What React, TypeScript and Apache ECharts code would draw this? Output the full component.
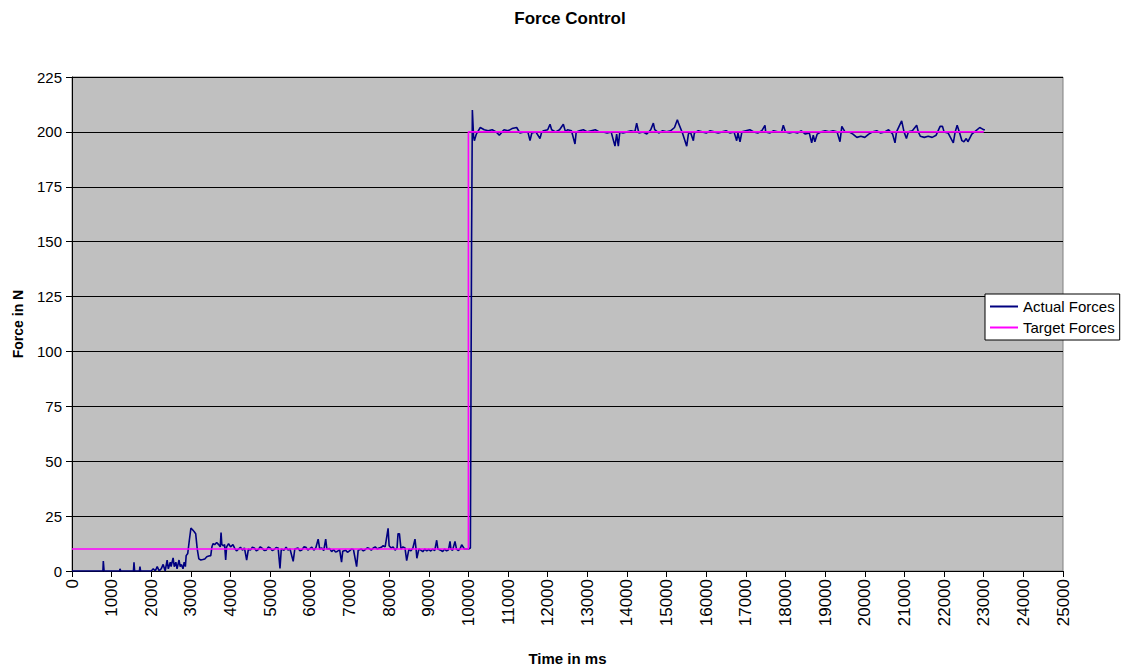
import React, { useEffect, useRef } from "react";
import * as echarts from "echarts";

const titleText = "Force Control";
const xAxisName = "Time in ms";
const yAxisName = "Force in N";
const seriesNames = ["Actual Forces", "Target Forces"];

// [time ms, force N]
const actualForces: [number, number][] = [
  [0, 0], [200, 0], [400, 0], [600, 0], [780, 0], [790, 4.5], [810, 0], [1000, 0], [1200, 0], [1210, 1], [1230, 0],
  [1550, 0], [1564, 4], [1580, 0], [1700, 0], [1715, 2], [1730, 0], [2000, 0], [2050, 1], [2100, 0], [2150, 2],
  [2200, 0], [2250, 1], [2300, 3], [2350, 0], [2400, 5], [2430, 1], [2480, 4], [2500, 2], [2550, 6], [2580, 2],
  [2620, 4], [2650, 1], [2700, 5], [2730, 2], [2760, 3], [2800, 1], [2830, 4], [2860, 2], [2880, 7], [2920, 8],
  [2960, 14], [3000, 19.5], [3030, 19], [3080, 18], [3120, 17], [3160, 10], [3200, 5.5], [3250, 5], [3300, 5.2],
  [3350, 5.5], [3400, 6.5], [3450, 6.8], [3500, 7], [3530, 11], [3560, 12.5], [3600, 12], [3650, 13], [3700, 12],
  [3740, 11], [3760, 17.5], [3780, 12], [3820, 11.5], [3850, 12], [3877, 5], [3900, 11], [3950, 12.5], [4000, 11],
  [4060, 12], [4100, 10.5], [4150, 9.2], [4200, 10], [4250, 10.8], [4300, 9.5], [4350, 10.5], [4406, 5], [4450, 10],
  [4500, 9.5], [4550, 10.8], [4600, 10.5], [4650, 9.2], [4700, 9.8], [4750, 11], [4800, 10.3], [4850, 9.4],
  [4900, 9.5], [4950, 10.9], [5000, 10.5], [5050, 9.3], [5100, 9.8], [5150, 10.7], [5200, 10.5], [5247, 1.2],
  [5280, 10], [5350, 9.5], [5400, 10.8], [5450, 9.6], [5500, 10], [5580, 4.4], [5620, 10], [5700, 10.5],
  [5750, 9.2], [5800, 9.6], [5850, 11], [5900, 10.8], [5950, 9.5], [6000, 10.2], [6050, 10.9], [6100, 9.5],
  [6150, 10.5], [6210, 14.5], [6250, 10], [6300, 10.5], [6350, 9.3], [6400, 14.5], [6430, 10], [6500, 10.2],
  [6550, 8.8], [6600, 9.8], [6650, 8.6], [6700, 9], [6750, 9.8], [6800, 4], [6830, 9], [6900, 9.5], [6950, 8.5],
  [7000, 9.2], [7050, 10], [7100, 9.8], [7180, 2], [7220, 9.5], [7300, 10], [7350, 9.2], [7400, 9.8],
  [7450, 10.6], [7500, 10.2], [7550, 9.5], [7600, 10.5], [7650, 11], [7700, 10], [7750, 10.5], [7800, 10.8],
  [7850, 11.5], [7900, 11], [7974, 19.4], [8000, 11.5], [8050, 10.5], [8100, 11], [8150, 9.5], [8200, 10.5],
  [8225, 17], [8260, 17], [8300, 10], [8350, 11], [8400, 10.5], [8443, 4.7], [8500, 10], [8550, 9.2],
  [8600, 10.5], [8653, 14.5], [8680, 10], [8700, 5.8], [8750, 10], [8800, 9.5], [8850, 8.8], [8900, 10],
  [8950, 9.2], [9000, 9.8], [9050, 9.1], [9100, 10], [9150, 9.3], [9200, 14], [9230, 10], [9300, 9.5],
  [9350, 8.9], [9400, 10], [9450, 9.2], [9500, 9.7], [9536, 13.5], [9560, 10], [9600, 9.4], [9662, 13.5],
  [9700, 10], [9750, 9.3], [9800, 10.5], [9830, 12], [9900, 10], [10000, 10], [10050, 10.5],
  [10080, 150], [10100, 210], [10130, 198], [10150, 196], [10200, 199], [10300, 202], [10400, 201],
  [10500, 200.5], [10600, 201], [10700, 200], [10780, 198.5], [10850, 200], [10900, 201], [11000, 200.5],
  [11100, 201.5], [11218, 202], [11300, 199.5], [11400, 200], [11500, 200], [11554, 196], [11600, 199.5],
  [11700, 200], [11806, 197], [11850, 200], [11900, 200.5], [12000, 201], [12059, 203.5], [12100, 201],
  [12200, 200], [12300, 201], [12395, 203.5], [12450, 200], [12500, 201], [12600, 200.5], [12689, 194.5],
  [12720, 200], [12800, 200.5], [12900, 201], [13000, 200], [13100, 200.5], [13200, 201], [13300, 200],
  [13400, 200], [13500, 199.5], [13600, 200], [13698, 193.5], [13740, 199], [13782, 193.5], [13820, 200],
  [13900, 199.5], [14000, 200], [14100, 200.5], [14200, 200], [14245, 204], [14300, 199.5], [14400, 200],
  [14500, 199], [14600, 201], [14666, 204], [14700, 201], [14800, 199.5], [14900, 200.5], [15000, 200],
  [15100, 200.5], [15200, 202], [15271, 205.5], [15300, 204], [15400, 199.5], [15507, 193.5], [15550, 199],
  [15600, 200], [15675, 196], [15700, 199.5], [15800, 200.5], [15900, 200], [16000, 199.5], [16100, 200.5],
  [16200, 200], [16300, 199.5], [16400, 200], [16500, 200.5], [16600, 199.5], [16700, 200], [16768, 196],
  [16800, 199.5], [16852, 195.5], [16900, 200], [17000, 200.5], [17100, 201], [17200, 200], [17300, 199.5],
  [17400, 200.5], [17482, 203], [17500, 200], [17600, 199.5], [17700, 200.5], [17800, 200], [17900, 200],
  [17944, 203], [18000, 200], [18100, 199.5], [18200, 200], [18300, 199.5], [18400, 200.5], [18500, 199],
  [18600, 199.5], [18660, 195], [18700, 198.5], [18740, 195.5], [18800, 199], [18900, 200], [19000, 200.5],
  [19100, 200], [19200, 200.5], [19300, 200], [19374, 195.5], [19420, 202.5], [19500, 200], [19600, 200],
  [19700, 199], [19800, 197.5], [19900, 198], [20000, 197.5], [20100, 199], [20200, 200], [20300, 200.5],
  [20400, 199.5], [20500, 200], [20600, 201], [20700, 199], [20762, 195], [20800, 200], [20930, 205],
  [20990, 200], [21050, 197], [21100, 200], [21200, 200.5], [21309, 203], [21350, 200], [21400, 198],
  [21500, 197.5], [21600, 198], [21700, 197.5], [21800, 198.5], [21900, 202.5], [21960, 202.5], [22000, 200],
  [22100, 199.5], [22233, 195], [22280, 200], [22330, 203], [22400, 199], [22450, 196], [22500, 195.5],
  [22560, 197], [22600, 195.5], [22700, 199], [22800, 200.5], [22900, 202], [22950, 201.5], [23000, 201],
  [23030, 201],
];

const targetForces: [number, number][] = [
  [0, 10], [10000, 10], [10000, 200], [23000, 200],
];

const FONT = "'Liberation Sans', Arial, sans-serif";

export default function App() {
  const ref = useRef<HTMLDivElement>(null);
  useEffect(() => {
    if (!ref.current) return;
    const chart = echarts.init(ref.current, undefined, { renderer: "svg" });
    chart.setOption({
      animation: false,
      backgroundColor: "#ffffff",
      title: {
        text: titleText,
        left: 565,
        textAlign: "center",
        top: 5,
        textStyle: { fontFamily: FONT, fontSize: 17, fontWeight: "bold", color: "#000" },
      },
      legend: {
        orient: "vertical",
        left: 985,
        top: 294,
        padding: [5, 5, 5, 5],
        itemGap: 6,
        itemWidth: 28,
        itemHeight: 2,
        icon: "rect",
        backgroundColor: "#ffffff",
        borderColor: "#000000",
        borderWidth: 1,
        borderRadius: 0,
        textStyle: { fontFamily: FONT, fontSize: 15, color: "#000" },
        data: seriesNames,
      },
      grid: {
        left: 72,
        top: 77,
        right: 64,
        bottom: 98,
        containLabel: false,
        outerBoundsMode: "none",
        show: true,
        backgroundColor: "#C0C0C0",
        borderColor: "#808080",
        borderWidth: 1,
      },
      xAxis: {
        type: "value",
        min: 0,
        max: 25000,
        interval: 1000,
        name: xAxisName,
        nameLocation: "middle",
        nameGap: 80,
        nameTextStyle: { fontFamily: FONT, fontSize: 15, fontWeight: "bold", color: "#000" },
        axisLine: { show: true, onZero: false, lineStyle: { color: "#000", width: 1 } },
        axisTick: { show: true, inside: false, length: 6, lineStyle: { color: "#000" } },
        axisLabel: {
          rotate: 90,
          fontFamily: FONT,
          fontSize: 17,
          color: "#000",
          margin: 8,
          formatter: (v: number) => String(v),
        },
        splitLine: { show: false },
      },
      yAxis: {
        type: "value",
        min: 0,
        max: 225,
        interval: 25,
        name: yAxisName,
        nameLocation: "middle",
        nameGap: 47,
        nameTextStyle: { fontFamily: FONT, fontSize: 14, fontWeight: "bold", color: "#000" },
        axisLine: { show: true, lineStyle: { color: "#000", width: 1 } },
        axisTick: { show: true, inside: false, length: 6, lineStyle: { color: "#000" } },
        axisLabel: { fontFamily: FONT, fontSize: 15, color: "#000", margin: 10 },
        splitLine: { show: true, lineStyle: { color: "#000", width: 1 } },
      },
      series: [
        {
          name: seriesNames[0],
          type: "line",
          data: actualForces,
          showSymbol: false,
          symbol: "none",
          lineStyle: { color: "#000080", width: 1.6 },
          itemStyle: { color: "#000080" },
          z: 2,
        },
        {
          name: seriesNames[1],
          type: "line",
          data: targetForces,
          showSymbol: false,
          symbol: "none",
          lineStyle: { color: "#FF00FF", width: 1.6 },
          itemStyle: { color: "#FF00FF" },
          z: 3,
        },
      ],
    });
    return () => chart.dispose();
  }, []);
  return <div ref={ref} style={{ width: 1127, height: 669, position: "absolute", left: 0, top: 0 }} />;
}
